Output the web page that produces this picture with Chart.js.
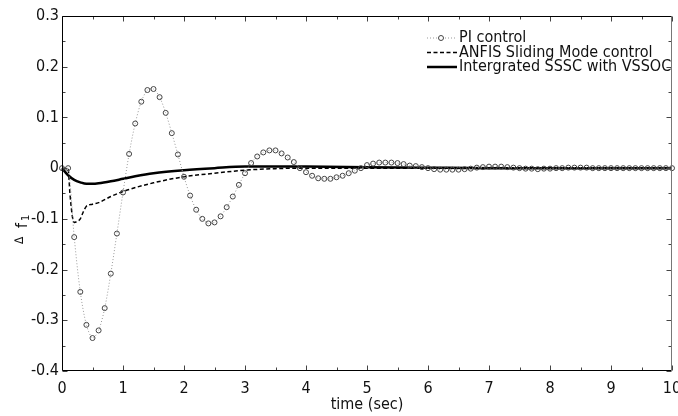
<!DOCTYPE html>
<html>
<head>
<meta charset="utf-8">
<script src="https://cdn.jsdelivr.net/npm/chart.js@4.4.0/dist/chart.umd.min.js"></script>
<style>
  html, body { margin: 0; padding: 0; background: #fff; }
</style>
</head>
<body>
<canvas id="freqChart" width="678" height="416"></canvas>
<script>
// PI control, sampled every 0.1 s (one marker per sample)
const piTime = [0, 0.1, 0.2, 0.3, 0.4, 0.5, 0.6, 0.7, 0.8, 0.9,
  1, 1.1, 1.2, 1.3, 1.4, 1.5, 1.6, 1.7, 1.8, 1.9,
  2, 2.1, 2.2, 2.3, 2.4, 2.5, 2.6, 2.7, 2.8, 2.9,
  3, 3.1, 3.2, 3.3, 3.4, 3.5, 3.6, 3.7, 3.8, 3.9,
  4, 4.1, 4.2, 4.3, 4.4, 4.5, 4.6, 4.7, 4.8, 4.9,
  5, 5.1, 5.2, 5.3, 5.4, 5.5, 5.6, 5.7, 5.8, 5.9,
  6, 6.1, 6.2, 6.3, 6.4, 6.5, 6.6, 6.7, 6.8, 6.9,
  7, 7.1, 7.2, 7.3, 7.4, 7.5, 7.6, 7.7, 7.8, 7.9,
  8, 8.1, 8.2, 8.3, 8.4, 8.5, 8.6, 8.7, 8.8, 8.9,
  9, 9.1, 9.2, 9.3, 9.4, 9.5, 9.6, 9.7, 9.8, 9.9, 10];
const piValues = [0, 0, -0.136, -0.244, -0.309, -0.335, -0.32, -0.276, -0.208, -0.129,
  -0.048, 0.028, 0.088, 0.131, 0.154, 0.156, 0.14, 0.109, 0.069, 0.027,
  -0.017, -0.054, -0.082, -0.1, -0.109, -0.107, -0.095, -0.077, -0.056, -0.033,
  -0.01, 0.01, 0.023, 0.031, 0.035, 0.035, 0.029, 0.021, 0.012, 0,
  -0.008, -0.015, -0.02, -0.021, -0.021, -0.018, -0.015, -0.01, -0.005, 0,
  0.006, 0.009, 0.011, 0.011, 0.011, 0.01, 0.008, 0.005, 0.004, 0.002,
  0, -0.002, -0.003, -0.003, -0.003, -0.003, -0.002, -0.001, 0.001, 0.002,
  0.003, 0.003, 0.003, 0.002, 0.001, 0, -0.001, -0.001, -0.002, -0.001,
  -0.001, 0, 0, 0.001, 0.001, 0.001, 0.001, 0, 0, 0,
  0, 0, 0, 0, 0, 0, 0, 0, 0, 0, 0];

// ANFIS sliding mode control
const anfisTime = [0, 0.1, 0.13, 0.17, 0.2, 0.25, 0.3, 0.35, 0.4, 0.5, 0.6, 0.8, 1, 1.5, 2, 2.5, 3, 3.5, 4, 5, 10];
const anfisValues = [0, -0.002, -0.05, -0.095, -0.107, -0.105, -0.1, -0.086, -0.075, -0.071, -0.068, -0.056, -0.046, -0.029, -0.017, -0.01, -0.004, -0.001, 0, 0, 0];

// Integrated SSSC with VSSOC
const ssscTime = [0, 0.1, 0.2, 0.3, 0.4, 0.5, 0.6, 0.8, 1, 1.2, 1.5, 2, 2.5, 3, 3.5, 4, 5, 6, 7, 8, 10];
const ssscValues = [0, -0.014, -0.023, -0.028, -0.031, -0.031, -0.03, -0.026, -0.021, -0.016, -0.01, -0.004, 0, 0.003, 0.003, 0.003, 0.002, 0.001, 0, 0, 0];

const seriesNames = ["PI control", "ANFIS Sliding Mode control", "Intergrated SSSC with VSSOC"];
const xTicks = [0, 1, 2, 3, 4, 5, 6, 7, 8, 9, 10];
const yTicks = [-0.4, -0.3, -0.2, -0.1, 0, 0.1, 0.2, 0.3];

const FONT = '"DejaVu Sans Condensed", "Liberation Sans Narrow", "DejaVu Sans", sans-serif';

function toPoints(ts, vs) {
  return ts.map((t, i) => ({ x: t, y: vs[i] }));
}

// frame, inward ticks, legend and y-axis label
const decorPlugin = {
  id: "decor",
  afterDraw(chart) {
    const ctx = chart.ctx;
    const xs = chart.scales.x, ys = chart.scales.y;
    const L = Math.round(xs.getPixelForValue(0)) + 0.5;
    const R = Math.round(xs.getPixelForValue(10)) - 0.5;
    const B = Math.round(ys.getPixelForValue(-0.4)) - 0.5;
    const T = Math.round(ys.getPixelForValue(0.3)) + 0.5;
    ctx.save();
    ctx.lineWidth = 1;

    // ticks
    ctx.strokeStyle = "#444";
    ctx.beginPath();
    for (let k = 0; k <= 20; k++) {
      const v = k / 2;
      const px = Math.round(xs.getPixelForValue(v)) + 0.5;
      const len = k % 2 === 0 ? 5 : 3;
      ctx.moveTo(px, B); ctx.lineTo(px, B - len);
      ctx.moveTo(px, T); ctx.lineTo(px, T + len);
    }
    for (let k = 0; k <= 14; k++) {
      const v = -0.4 + k * 0.05;
      const py = Math.round(ys.getPixelForValue(v)) + 0.5;
      const len = k % 2 === 0 ? 5 : 3;
      ctx.moveTo(L, py); ctx.lineTo(L + len, py);
      ctx.moveTo(R, py); ctx.lineTo(R - len, py);
    }
    ctx.stroke();

    // legend
    ctx.font = "16px " + FONT;
    ctx.textBaseline = "middle";
    ctx.textAlign = "left";
    const lx0 = 427, lx1 = 457, tx = 459;
    const rows = [38, 52.5, 67];
    // PI sample
    ctx.strokeStyle = "#999";
    ctx.setLineDash([1, 2]);
    ctx.beginPath(); ctx.moveTo(lx0, rows[0]); ctx.lineTo(lx1, rows[0]); ctx.stroke();
    ctx.setLineDash([]);
    ctx.fillStyle = "#fff";
    ctx.strokeStyle = "#444";
    ctx.beginPath(); ctx.arc(441, rows[0], 2.5, 0, Math.PI * 2); ctx.fill(); ctx.stroke();
    // ANFIS sample
    ctx.strokeStyle = "#000";
    ctx.lineWidth = 1.5;
    ctx.setLineDash([4, 2.5]);
    ctx.beginPath(); ctx.moveTo(lx0, rows[1]); ctx.lineTo(lx1, rows[1]); ctx.stroke();
    ctx.setLineDash([]);
    // SSSC sample
    ctx.lineWidth = 2.5;
    ctx.beginPath(); ctx.moveTo(lx0, rows[2]); ctx.lineTo(lx1, rows[2]); ctx.stroke();
    ctx.fillStyle = "#111";
    seriesNames.forEach((n, i) => ctx.fillText(n, tx, rows[i]));

    // frame
    ctx.lineWidth = 1;
    ctx.strokeStyle = "#000";
    ctx.beginPath();
    ctx.moveTo(R, T); ctx.lineTo(L, T); ctx.lineTo(L, B); ctx.lineTo(R, B);
    ctx.stroke();
    ctx.strokeStyle = "#777";
    ctx.beginPath(); ctx.moveTo(R, T); ctx.lineTo(R, B); ctx.stroke();

    // y-axis label: delta f1
    ctx.translate(27, 244);
    ctx.rotate(-Math.PI / 2);
    ctx.fillStyle = "#111";
    ctx.textBaseline = "alphabetic";
    ctx.font = "12px " + FONT;
    ctx.fillText("\u2206", 0, -4);
    ctx.font = "16px " + FONT;
    ctx.fillText("f", 16, 0);
    ctx.font = "11px " + FONT;
    ctx.fillText("1", 23, 2);
    ctx.restore();
  }
};

new Chart(document.getElementById("freqChart"), {
  type: "line",
  data: {
    datasets: [
      {
        label: seriesNames[0],
        data: toPoints(piTime, piValues),
        borderColor: "#9a9a9a",
        borderWidth: 1,
        borderDash: [1, 2],
        tension: 0.3,
        pointRadius: 2.5,
        pointBorderWidth: 1,
        pointBorderColor: "#444",
        pointBackgroundColor: "rgba(255,255,255,0)",
        clip: false
      },
      {
        label: seriesNames[1],
        data: toPoints(anfisTime, anfisValues),
        borderColor: "#000",
        borderWidth: 1.5,
        borderDash: [4, 2.5],
        cubicInterpolationMode: "monotone",
        pointRadius: 0,
        clip: false
      },
      {
        label: seriesNames[2],
        data: toPoints(ssscTime, ssscValues),
        borderColor: "#000",
        borderWidth: 2.5,
        cubicInterpolationMode: "monotone",
        pointRadius: 0,
        clip: false
      }
    ]
  },
  options: {
    responsive: false,
    animation: false,
    layout: { padding: { left: 0, right: 6, top: 16, bottom: 0 } },
    plugins: { legend: { display: false }, tooltip: { enabled: false } },
    scales: {
      x: {
        type: "linear",
        min: 0,
        max: 10,
        afterBuildTicks: (s) => { s.ticks = xTicks.map(v => ({ value: v })); },
        afterFit: (s) => { s.height = 45; s.paddingLeft = 0; s.paddingRight = 0; },
        grid: { display: false, drawTicks: false },
        border: { display: false },
        ticks: { color: "#111", font: { size: 16, family: FONT }, padding: 8, maxRotation: 0, autoSkip: false },
        title: { display: true, text: "time (sec)", color: "#111", font: { size: 16, family: FONT }, padding: { top: 0, bottom: 2 } }
      },
      y: {
        type: "linear",
        min: -0.4,
        max: 0.3,
        afterBuildTicks: (s) => { s.ticks = yTicks.map(v => ({ value: v })); },
        afterFit: (s) => { s.width = 62; },
        grid: { display: false, drawTicks: false },
        border: { display: false },
        ticks: {
          color: "#111",
          font: { size: 16, family: FONT },
          padding: 3,
          callback: (v) => String(Math.round(v * 10) / 10)
        }
      }
    }
  },
  plugins: [decorPlugin]
});
</script>
</body>
</html>
